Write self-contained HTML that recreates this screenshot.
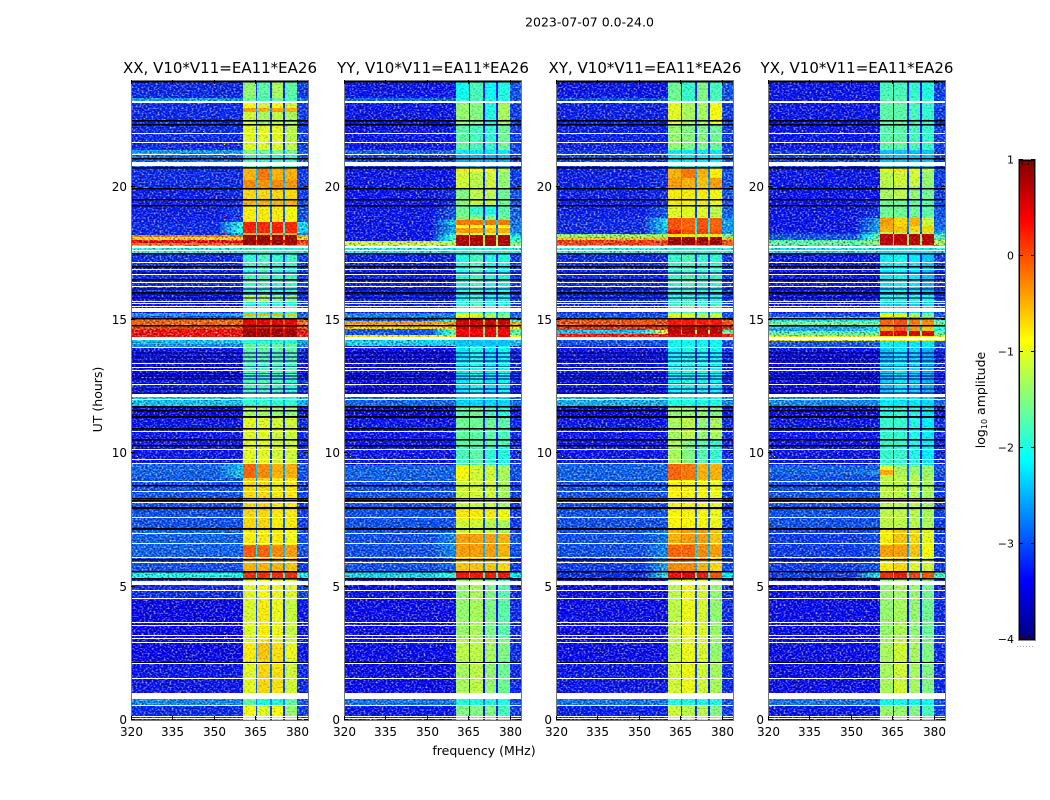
<!DOCTYPE html>
<html>
<head>
<meta charset="utf-8">
<title>2023-07-07 0.0-24.0</title>
<style>
html,body{margin:0;padding:0;background:#fff;}
svg{display:block;font-family:"DejaVu Sans","Liberation Sans",sans-serif;fill:#000;}
</style>
</head>
<body>
<svg id="chart" xmlns="http://www.w3.org/2000/svg" width="1050" height="800" viewBox="0 0 1050 800">
  <defs>
    <filter id="grain" x="0" y="0" width="100%" height="100%" color-interpolation-filters="sRGB">
      <feTurbulence type="fractalNoise" baseFrequency="0.5 0.62" numOctaves="1" seed="7"/>
      <feColorMatrix type="matrix" values="1.5 0 0 0 -0.25  1.5 0 0 0 -0.25  1.5 0 0 0 -0.25  0 0 0 0 1"/>
    </filter>
  </defs>
  <text x="589.5" y="26.5" font-size="12.5" text-anchor="middle">2023-07-07 0.0-24.0</text>
  <text transform="translate(102,399.5) rotate(-90)" font-size="12.5" text-anchor="middle">UT (hours)</text>
  <text x="484" y="755" font-size="12.5" text-anchor="middle">frequency (MHz)</text>
  <text transform="translate(985,400) rotate(-90)" font-size="12.5" text-anchor="middle">log<tspan font-size="8" dy="2">10</tspan><tspan dy="-2"> amplitude</tspan></text>
  <g id="panels"></g>
  <g id="colorbar"></g>
</svg>
<script>
const panelTitles = ["XX, V10*V11=EA11*EA26", "YY, V10*V11=EA11*EA26", "XY, V10*V11=EA11*EA26", "YX, V10*V11=EA11*EA26"];
const xTicks = [320, 335, 350, 365, 380];
const yTicks = [0, 5, 10, 15, 20];
const cbarTicks = [1, 0, -1, -2, -3, -4];

// Sub-band frequency limits in MHz
const subBands = [[360.6, 365.1], [365.7, 370.2], [370.85, 375.05], [375.8, 379.9]];

// Rows: [UT start, UT end, quiet level, near-band level, band 1, band 2, band 3, band 4, upper-edge level] (log10 amplitude)
const xxRows = [
[24,23.33,-3.2,-3.2,-1.4,-1.7,-1.3,-1.7,-3.1],
[23.33,23.14,-2.6,-2.6,-1.6,-1.8,-1.6,-1.8,-2.8],
[23.14,22.95,-3.2,-3.2,-.9,-1.1,-.9,-1.1,-3.1],
[22.95,22.8,-3.2,-3.2,-.4,-.5,-.4,-.5,-3.1],
[22.8,22.31,-3.2,-3.2,-1.1,-1.3,-1.2,-1.3,-3.1],
[22.31,21.38,-3.2,-3.2,-1,-1,-1,-1.2,-3.1],
[21.38,21.23,-2.6,-2.6,-1.5,-1.6,-1.5,-1.6,-2.9],
[21.23,20.7,-2.9,-2.9,-1.8,-1.9,-1.9,-1.9,-3],
[20.7,20.25,-3.2,-3.2,-.5,-.2,-.5,-.5,-3.1],
[20.25,19.88,-3.2,-3.2,-.3,-.35,-.3,-.35,-3.1],
[19.88,19.5,-3.25,-3.2,-.7,-.7,-.7,-.7,-3.1],
[19.5,19.31,-3.25,-3.2,-.5,-.5,-.5,-.5,-3],
[19.31,18.68,-3.25,-3.1,-.8,-.8,-.8,-.9,-3],
[18.68,18.26,-3.2,-2,.25,.2,.25,.2,-2.3],
[18.26,18.19,-3.2,-2.6,-.5,-.5,-.5,-.5,-2.8],
[18.19,18.11,-.2,-.2,.85,.85,.85,.85,-.5],
[18.11,18,-.7,-.7,.85,.85,.85,.85,-.7],
[18,17.89,.4,.4,.85,.85,.85,.85,.2],
[17.89,17.81,-.1,-.1,.85,.85,.85,.85,-.2],
[17.81,17.48,-2,-2,-1.9,-1.9,-2,-2,-2],
[17.48,15.94,-3.2,-3.2,-1.9,-1.8,-1.9,-1.9,-3.1],
[15.94,15.71,-3.3,-3.3,-1.2,-1.2,-1.4,-1.4,-3.1],
[15.71,15.28,-3.3,-3.3,-2,-2,-2,-2,-3.1],
[15.28,15.15,-2.6,-2.5,-.5,-.5,-.5,-.6,-2.8],
[15.15,15.08,-3,-3,-1.5,-1.5,-1.5,-1.5,-3],
[15.08,14.81,-.1,-.1,.5,.5,.5,.5,-.1],
[14.81,14.66,.05,.05,.6,.6,.6,.6,.05],
[14.66,14.25,.35,.4,.85,.85,.85,.85,.3],
[14.25,14.1,-2.4,-2.4,-2,-2,-2,-2,-2.5],
[14.1,13.99,-2.7,-2.7,-1.6,-1.6,-1.6,-1.6,-2.7],
[13.99,13.35,-3.3,-3.3,-1.7,-1.7,-1.7,-1.7,-3.2],
[13.35,12.75,-3.4,-3.4,-1.8,-1.8,-1.8,-1.8,-3.3],
[12.75,12.19,-3.25,-3.2,-1.8,-1.8,-1.8,-1.9,-3.1],
[12.19,11.78,-2.4,-2.4,-1.9,-1.9,-1.9,-1.9,-2.5],
[11.78,11.33,-3.4,-3.4,-1.3,-1.3,-1.4,-1.4,-3.3],
[11.33,9.6,-3.3,-3.3,-1,-1,-1.1,-1.1,-3.2],
[9.6,9.08,-2.9,-2.4,-.1,-.3,-.5,-.5,-3],
[9.08,7.2,-3,-3,-.7,-.7,-.8,-.8,-3.1],
[7.2,6.56,-2.9,-2.9,-.8,-.8,-.8,-.9,-3],
[6.56,6.08,-2.9,-2.9,-.05,-.1,-.3,-.4,-3],
[6.08,5.59,-3,-3,-.5,-.5,-.5,-.6,-3.1],
[5.59,5.29,-2.1,-2.1,.2,.2,.2,.2,-2.1],
[5.29,4.5,-3.2,-3.2,-1,-.9,-.95,-1,-3.1],
[4.5,2.89,-3.4,-3.4,-1.05,-.8,-.95,-1.15,-3.3],
[2.89,2.25,-3.4,-3.4,-.8,-.6,-.75,-.95,-3.3],
[2.25,.79,-3.3,-3.3,-1,-.7,-.75,-1.1,-3.2],
[.79,.53,-2.7,-2.7,-1.7,-2,-2,-1.7,-3],
[.53,0,-3.2,-3.2,-.9,-1,-.9,-1.4,-3.1]
];
const yyRows = [
[24,23.33,-3.3,-3.3,-2.1,-1.8,-2.1,-2,-3],
[23.33,23.14,-2.9,-2.9,-2,-1.8,-2,-2,-3],
[23.14,22.31,-3.3,-3.3,-1.4,-1.5,-2,-1.3,-3.1],
[22.31,21.38,-3.3,-3.3,-1.7,-1.8,-1.9,-1.6,-3.1],
[21.38,21.23,-2.9,-2.9,-2.2,-2.2,-2.2,-2.2,-3],
[21.23,20.7,-3.1,-3.1,-2.5,-2.5,-2.5,-2.5,-3.1],
[20.7,20.55,-3.3,-3.3,-.8,-.9,-.9,-1.2,-3.1],
[20.55,19.95,-3.3,-3.3,-1.1,-1.2,-1.1,-1.4,-3.1],
[19.95,19.31,-3.3,-3.2,-1.5,-1.2,-1.2,-1.6,-3],
[19.31,18.94,-3.3,-3,-1.6,-1.9,-2,-1.7,-2.9],
[18.94,18.75,-3.3,-3,-1.5,-1.5,-1.5,-1.6,-2.9],
[18.75,18.56,-3.3,-2.3,-.2,-.2,-.2,-.2,-2.8],
[18.56,18.45,-3.3,-2.7,-.9,-.9,-.9,-.9,-2.8],
[18.45,18.26,-3.3,-2.5,-.4,-.4,-.6,-.5,-2.7],
[18.26,18.19,-3.3,-2.3,-1,-1,-1,-1,-2.5],
[18.19,17.96,-3.3,-1.9,.75,.75,.75,.75,-2],
[17.96,17.78,-1.1,-1.2,.75,.75,.75,.75,-1.5],
[17.78,17.48,-2.1,-2.1,-2,-2,-2,-2,-2.1],
[17.48,15.28,-3.25,-3.25,-2,-1.8,-2,-2,-3.1],
[15.28,15.11,-2.7,-2.7,-.9,-1,-1.2,-1.5,-2.9],
[15.11,15.08,-3,-3,-1.5,-1.5,-1.5,-1.5,-3],
[15.08,14.96,-3,-1.8,.7,.7,.7,.7,-2],
[14.96,14.81,-.4,-.4,.6,.6,.6,.6,-.5],
[14.81,14.66,-.7,-.7,.6,.6,.6,.6,-.8],
[14.66,14.44,-3,-1.7,.4,.4,.4,.4,-1.7],
[14.44,14.25,-.8,-.8,.6,.5,.5,.5,-.9],
[14.25,14.03,-2.3,-2.3,-2.4,-2.4,-2.4,-2.4,-2.4],
[14.03,12.19,-3.35,-3.35,-2.2,-2,-2.2,-2.1,-3.2],
[12.19,11.78,-2.9,-2.9,-2.3,-2.3,-2.3,-2.3,-2.9],
[11.78,11.33,-3.4,-3.4,-1.7,-1.6,-1.8,-2,-3.3],
[11.33,10.8,-3.3,-3.3,-1.6,-1.6,-1.6,-1.7,-3.2],
[10.8,10.2,-3.3,-3.3,-1.7,-1.7,-1.7,-1.8,-3.2],
[10.2,9.56,-3.3,-3.3,-1.8,-1.7,-1.9,-2,-3.2],
[9.56,9,-2.9,-2.9,-.9,-1.1,-1.1,-1.3,-3],
[9,7.88,-3,-3,-1.1,-1.1,-1.1,-1.3,-3.1],
[7.88,7.5,-3,-3,-.8,-.8,-.8,-.9,-3.1],
[7.5,7.01,-3,-3,-1.1,-1.1,-1.2,-1.3,-3.1],
[7.01,6.11,-3,-2.7,-.4,-.4,-.4,-.5,-3],
[6.11,5.59,-3,-2.9,-.6,-.6,-.6,-.7,-3.1],
[5.59,5.29,-2.3,-2,.3,.3,.3,.3,-2.2],
[5.29,3,-3.35,-3.35,-1.4,-1.3,-1.5,-1.7,-3.2],
[3,2.25,-3.35,-3.35,-1.2,-1.2,-1.3,-1.5,-3.2],
[2.25,.79,-3.35,-3.35,-1.3,-1.2,-1.4,-1.6,-3.2],
[.79,.56,-2.8,-2.8,-2,-2,-2,-2,-3],
[.56,0,-3.3,-3.3,-1.5,-1.5,-1.5,-1.8,-3.1]
];
const xyRows = [
[24,23.33,-3.3,-3.3,-1.6,-1.9,-1.5,-1.8,-3],
[23.33,23.14,-3,-3,-1.6,-1.9,-1.5,-1.8,-3],
[23.14,22.31,-3.25,-3.25,-1,-1.3,-1.3,-.9,-3.1],
[22.31,21.38,-3.25,-3.25,-1.4,-1.5,-1.5,-1.6,-3.1],
[21.38,20.7,-3.1,-3.1,-2.2,-2.2,-2.2,-2.2,-3],
[20.7,20.33,-3.25,-3.2,-.5,-.2,-.5,-.8,-3],
[20.33,19.95,-3.25,-3.2,-.4,-.5,-.6,-.4,-3],
[19.95,19.31,-3.25,-3.2,-.8,-.8,-.8,-.9,-3],
[19.31,18.83,-3.25,-3,-1,-1,-1,-1.2,-2.9],
[18.83,18.38,-3.2,-2.3,0,-.1,0,-.1,-2.6],
[18.38,18.23,-3.2,-2.5,.3,0,.1,0,-2.6],
[18.23,18.11,-1.4,-1.4,-.8,-.8,-.8,-.8,-1.6],
[18.11,18,-.6,-.6,.85,.85,.85,.85,-.6],
[18,17.81,.1,.1,.85,.85,.85,.85,0],
[17.81,17.48,-2,-2,-2,-2,-2,-2,-2],
[17.48,15.28,-3.2,-3.2,-1.9,-1.8,-1.9,-1.9,-3.1],
[15.28,15.11,-3,-3,-.9,-1,-1.2,-1.1,-3],
[15.11,15.08,-3,-3,-1.5,-1.5,-1.5,-1.5,-3],
[15.08,14.78,0,0,.3,.3,.3,.3,0],
[14.78,14.63,.2,.2,.7,.7,.7,.7,.2],
[14.63,14.48,-2.4,-1,.7,.7,.7,.7,-1.7],
[14.48,14.25,.3,.3,.5,.5,.5,.5,.3],
[14.25,14.03,-3,-3,-2.1,-2.1,-2.1,-2.1,-3],
[14.03,12.19,-3.3,-3.3,-2.1,-2,-2,-2.1,-3.2],
[12.19,11.78,-2.5,-2.5,-2,-2,-2,-2,-2.7],
[11.78,11.33,-3.4,-3.4,-1.4,-1.4,-1.4,-1.5,-3.3],
[11.33,10.5,-3.3,-3.3,-1.3,-1.2,-1.4,-1.3,-3.2],
[10.5,9.6,-3.3,-3.3,-1.3,-1.5,-1.7,-1.9,-3.2],
[9.6,9,-2.9,-2.9,-.1,-.2,-.5,-.5,-3],
[9,7.2,-3,-3,-.85,-.85,-.85,-.95,-3.1],
[7.2,6.56,-3,-2.8,-.5,-.4,-.4,-.6,-3],
[6.56,6.08,-3,-2.7,-.1,-.1,-.3,-.4,-3],
[6.08,5.59,-3.1,-2.6,-.3,-.3,-.5,-.7,-3],
[5.59,5.29,-3.2,-2.2,.4,.5,.3,0,-2.2],
[5.29,2.25,-3.35,-3.35,-1.2,-.95,-1.05,-1.4,-3.2],
[2.25,.79,-3.3,-3.3,-1.1,-.95,-1.1,-1.3,-3.2],
[.79,.56,-2.8,-2.8,-2,-2,-2,-2,-3],
[.56,0,-3.25,-3.25,-1.1,-1.2,-1.2,-1.5,-3.1]
];
const yxRows = [
[24,23.33,-3.3,-3.3,-1.8,-1.8,-1.9,-2,-3.1],
[23.33,21.38,-3.3,-3.3,-1.7,-1.7,-1.8,-1.9,-3.1],
[21.38,20.7,-3.1,-3.1,-2.4,-2.4,-2.4,-2.4,-3.1],
[20.7,20.55,-3.3,-3.3,-.8,-.8,-1,-1.2,-3.1],
[20.55,20.03,-3.3,-3.3,-1.2,-1.1,-1.1,-1.4,-3.1],
[20.03,19.5,-3.3,-3.3,-1.3,-1.2,-1.4,-1.6,-3.1],
[19.5,18.83,-3.3,-3.2,-1.6,-1.6,-1.6,-1.7,-3],
[18.83,18.53,-3.3,-2.6,-.4,-.7,-.5,-1.1,-2.9],
[18.53,18.3,-3.3,-2.6,-.5,-.6,-.7,-.7,-2.8],
[18.3,18.23,-3.2,-2.4,-1.2,-1.2,-1.2,-1.2,-2.5],
[18.23,18,-3,-1.7,.7,.7,.7,.7,-1.8],
[18,17.81,-1.7,-1.5,.7,.7,.7,.7,-1.3],
[17.81,17.48,-2.2,-2.2,-2.2,-2.2,-2.2,-2.2,-2.2],
[17.48,15.94,-3.3,-3.3,-2.2,-2.1,-2.2,-2.4,-3.1],
[15.94,15.71,-3.3,-3.3,-1.9,-1.9,-1.9,-2,-3.1],
[15.71,15.28,-3.3,-3.3,-2.3,-2.3,-2.3,-2.3,-3.1],
[15.28,15.11,-3,-3,-.9,-1,-1.2,-1.5,-3],
[15.11,14.96,-2.2,-2.2,-.1,0,-.2,-.3,-2],
[14.96,14.81,-1.6,-1.6,-.1,0,-.2,-.3,-1.6],
[14.81,14.59,-2.5,-2.2,-.4,0,-.4,-.6,-2],
[14.59,14.4,-1.7,-1.6,.5,.5,.5,.5,-1.6],
[14.4,14.21,-.9,-.9,-.9,-.9,-.9,-.9,-.9],
[14.21,13.99,-3,-3,-2.2,-2.2,-2.2,-2.2,-3],
[13.99,12.19,-3.35,-3.35,-2.4,-2.2,-2.3,-2.5,-3.2],
[12.19,11.78,-2.7,-2.7,-2.2,-2.2,-2.2,-2.3,-2.9],
[11.78,11.33,-3.4,-3.4,-2,-1.9,-2,-2.2,-3.3],
[11.33,9.56,-3.3,-3.3,-1.9,-1.9,-2,-2.2,-3.2],
[9.56,9.38,-2.9,-2.9,-1,-1.3,-1.4,-1.4,-3],
[9.38,9.19,-2.9,-2.7,-.5,-1.3,-1.4,-1.4,-3],
[9.19,7.13,-3,-3,-1.2,-1.2,-1.2,-1.3,-3.1],
[7.13,6.56,-3.1,-3,-.8,-.6,-.7,-1,-3.1],
[6.56,6.08,-3.1,-3,-.4,-.4,-.6,-.9,-3.1],
[6.08,5.59,-3.1,-3,-.8,-.7,-1,-1.1,-3.1],
[5.59,5.29,-3.1,-2.2,.2,.3,.1,0,-1.9],
[5.29,3,-3.35,-3.35,-1.4,-1.3,-1.4,-1.6,-3.2],
[3,.79,-3.35,-3.35,-1.3,-1.1,-1.3,-1.5,-3.2],
[.79,.56,-2.8,-2.8,-2.1,-2.1,-2.1,-2.1,-3],
[.56,0,-3.3,-3.3,-1.4,-1.4,-1.5,-1.8,-3.1]
];
const panelRows = [xxRows, yyRows, xyRows, yxRows];

// Flagged integrations, shared by all correlations: [UT high, UT low]
const whiteGaps = [
[23.23,23.14],[22.03,21.98],[21.69,21.64],[21.24,21.19],[20.94,20.76],[17.79,17.76],[17.72,17.68],[17.63,17.57],
[17.16,17.1],[16.93,16.88],[16.74,16.69],[16.44,16.39],[16.29,16.24],[15.73,15.68],[15.64,15.58],[15.54,15.49],
[15.45,15.28],[14.36,14.25],[13.99,13.93],[13.37,13.31],[13.24,13.18],[13.11,13.05],[12.6,12.54],[12.21,12.09],
[12.04,12],[10.84,10.78],[10.18,10.13],[9.79,9.73],[9.62,9.56],[8.98,8.93],[8.57,8.51],[8.16,8.1],[7.63,7.58],
[7.03,6.98],[6.62,6.56],[6.13,6.08],[5.91,5.85],[5.23,5.06],[4.89,4.84],[4.59,4.54],[3.66,3.6],[3.56,3.53],
[3.17,3.11],[3.08,3.02],[2.93,2.89],[2.12,2.06],[1.56,1.5],[1.03,.79],[.58,.53],[.15,.11],[.08,.04]
];
const blackRows = [
[23.96,23.91],[22.5,22.44],[22.35,22.29],[21.08,21.04],[20.74,20.68],[19.95,19.91],[19.54,19.5],[19.33,19.28],
[17.53,17.48],[17.03,16.99],[16.54,16.48],[16.05,15.99],[15.09,15.04],[14.81,14.78],[11.76,11.7],[11.63,11.59],
[11.4,11.33],[10.95,10.89],[10.52,10.46],[10.33,10.28],[8.81,8.78],[8.34,8.29],[8.25,8.21],[7.99,7.91],[7.2,7.13],
[6.02,5.96],[5.59,5.55],[5.33,5.27],[2.18,2.12]
];
// Low-level integrations, darker than their surroundings
const dimRows = [
[16.8,16.72],[16.2,16.13],[16.0,15.93],[15.86,15.8],[13.8,13.72],[13.65,13.57],[13.5,13.42],[13.28,13.25],[13.03,12.98],
[12.95,12.87],[12.82,12.75],[12.65,12.57],[12.45,12.37],[12.3,12.22]
];
// Isolated bright samples: [UT, MHz, log10 amplitude]
const spikes = [
[22.0,353.6,-1],[21.6,353.6,-1],[21.2,353.6,-.5],[18.9,353.6,.2],[18.3,353.6,.3],[22.1,346,-1.6],[19.5,340,-1.7],
[13.6,353.6,-1],[10,345,-.7],[9.9,322,-1.2],[4.9,353.6,-1.2],[3.8,353.6,-1.2],[3.1,353.6,-1.4]
];

const FMIN = 320, FMAX = 384, TMIN = 0, TMAX = 24, VMIN = -4, VMAX = 1;
const PW = 177, PH = 640, PTOP = 80, PSTEP = 212.3, PLEFT = 131.2;
const SVGNS = "http://www.w3.org/2000/svg";

function panelLeft(i) { return Math.round(PLEFT + i * PSTEP); }
function xScale(i, f) { return panelLeft(i) + (f - FMIN) / (FMAX - FMIN) * PW; }
function yScale(h) { return PTOP + (TMAX - h) / (TMAX - TMIN) * PH; }
function cScale(v) { return 160 + (VMAX - v) / (VMAX - VMIN) * 480; }

function jet(v) {
  const t = Math.max(0, Math.min(1, (v - VMIN) / (VMAX - VMIN)));
  const ramp = function (x) {
    return Math.max(0, Math.min(1, x));
  };
  const r = ramp(Math.min(4 * t - 1.5, -4 * t + 4.5));
  const g = ramp(Math.min(4 * t - 0.5, -4 * t + 3.5));
  const b = ramp(Math.min(4 * t + 0.5, -4 * t + 2.5));
  return "rgb(" + Math.round(r * 255) + "," + Math.round(g * 255) + "," + Math.round(b * 255) + ")";
}

function make(tag, attrs, parent) {
  const el = document.createElementNS(SVGNS, tag);
  for (const k in attrs) el.setAttribute(k, attrs[k]);
  parent.appendChild(el);
  return el;
}

function cell(parent, x0, x1, y0, y1, fill) {
  const top = Math.round(y0), bottom = Math.max(top + 1, Math.round(y1));
  const left = Math.round(x0), right = Math.max(left + 1, Math.round(x1));
  return make("rect", { x: left, y: top, width: right - left, height: bottom - top, fill: fill, "shape-rendering": "crispEdges" }, parent);
}

// A flagged row keeps its true thickness, at least one pixel
function gapRow(parent, x0, x1, y0, y1, fill) {
  const top = Math.round(y0), height = Math.max(1, Math.floor(y1 - y0 + 0.2));
  return make("rect", { x: x0, y: top, width: x1 - x0, height: height, fill: fill, "shape-rendering": "crispEdges" }, parent);
}

// A no-signal row is drawn at its measured thickness with a soft lower edge
function darkRow(parent, x0, x1, y0, y1) {
  const top = Math.round(y0), height = Math.max(1.5, y1 - y0);
  return make("rect", { x: x0, y: top, width: x1 - x0, height: height, fill: "#000" }, parent);
}

const panelsRoot = document.getElementById("panels");

panelRows.forEach(function (rows, i) {
  const L = panelLeft(i), R = L + PW, B = PTOP + PH;
  const g = make("g", {}, panelsRoot);
  
  

  const title = make("text", { x: L + PW / 2 + 0.5, y: 73, "font-size": 15, "text-anchor": "middle" }, g);
  title.textContent = panelTitles[i];
  
  

  const heat = make("g", {}, g);
  
  
  heat.style.isolation = "isolate";

  rows.forEach(function (row) {
    const y0 = yScale(row[0]), y1 = yScale(row[1]);
    const quiet = row[2], halo = row[3], edge = row[8];
    const spans = [
      [FMIN, 352, quiet],
      [352, 354, quiet + (halo - quiet) * 0.25],
      [354, 356, quiet + (halo - quiet) * 0.5],
      [356, 358.3, quiet + (halo - quiet) * 0.75],
      [358.3, subBands[0][0], halo],
      [subBands[3][1], FMAX, edge]
    ];
    subBands.forEach(function (band, b) {
      spans.push([band[0], band[1], row[4 + b]]);
      if (b < subBands.length - 1) {
        const gapLevel = Math.max(quiet, (row[4 + b] + row[5 + b]) / 2 - 2.1);
        spans.push([band[1], subBands[b + 1][0], gapLevel]);
      }
    });
    spans.forEach(function (s) {
      const c = cell(heat, xScale(i, s[0]), xScale(i, s[1]), y0, y1, jet(s[2]));
      
      
    });
  });

  const bandX0 = Math.round(xScale(i, subBands[0][0]));
  const bandX1 = Math.round(xScale(i, subBands[3][1]));
  const grainQuiet = make("rect", { x: L, y: PTOP, width: bandX0 - L, height: PH, filter: "url(#grain)", opacity: 0.75 }, heat);
  grainQuiet.style.mixBlendMode = "hard-light";
  
  
  const grainBand = make("rect", { x: bandX0, y: PTOP, width: bandX1 - bandX0, height: PH, filter: "url(#grain)", opacity: 0.3 }, heat);
  grainBand.style.mixBlendMode = "hard-light";
  
  
  const grainUpper = make("rect", { x: bandX1, y: PTOP, width: R - bandX1, height: PH, filter: "url(#grain)", opacity: 0.75 }, heat);
  grainUpper.style.mixBlendMode = "hard-light";
  
  

  spikes.forEach(function (s) {
    const c = cell(heat, xScale(i, s[1]), xScale(i, s[1]) + 1, yScale(s[0]), yScale(s[0]) + 1, jet(s[2]));
    
    
  });

  dimRows.forEach(function (d) {
    const c = cell(heat, L, R, yScale(d[0]), yScale(d[1]), "rgba(0,0,110,0.55)");
    
    
  });
  blackRows.forEach(function (d) {
    const c = darkRow(heat, L, R, yScale(d[0]), yScale(d[1]));
    
    
  });
  whiteGaps.forEach(function (d) {
    const c = gapRow(heat, L, R, yScale(d[0]), yScale(d[1]), "#fff");
    
    
  });

  const frame = make("rect", { x: L + 0.5, y: PTOP + 0.5, width: PW, height: PH, fill: "none", stroke: "#777", "stroke-width": 1 }, g);
  
  

  xTicks.forEach(function (t) {
    const x = Math.round(xScale(i, t)) + 0.5;
    const a = make("line", { x1: x, x2: x, y1: B, y2: B - 4, stroke: "#000" }, g);
    
    
    const a2 = make("line", { x1: x, x2: x, y1: PTOP, y2: PTOP + 4, stroke: "#000" }, g);
    
    
    const lbl = make("text", { x: x, y: 736, "font-size": 12, "text-anchor": "middle" }, g);
    lbl.textContent = t;
    
    
  });
  yTicks.forEach(function (t) {
    const y = Math.round(yScale(t)) - 0.5;
    const a = make("line", { x1: L, x2: L + 4, y1: y, y2: y, stroke: "#000" }, g);
    
    
    const a2 = make("line", { x1: R, x2: R - 4, y1: y, y2: y, stroke: "#000" }, g);
    
    
    const lbl = make("text", { x: L - 4, y: y + 4.5, "font-size": 12, "text-anchor": "end" }, g);
    lbl.textContent = t;
    
    
  });
});

const cb = document.getElementById("colorbar");
const CB_L = 1019, CB_R = 1035, CB_STEPS = 240;
for (let s = 0; s < CB_STEPS; s++) {
  const v0 = VMAX - (VMAX - VMIN) * s / CB_STEPS;
  const v1 = VMAX - (VMAX - VMIN) * (s + 1) / CB_STEPS;
  const c = cell(cb, CB_L, CB_R, cScale(v0), cScale(v1), jet((v0 + v1) / 2));
  
  
}
const cbFrame = make("rect", { x: CB_L - 0.5, y: 159.5, width: CB_R - CB_L + 1, height: 481, fill: "none", stroke: "#888" }, cb);


const cbInner = make("rect", { x: CB_L + 0.5, y: 160.5, width: CB_R - CB_L - 1, height: 479, fill: "none", stroke: "#000" }, cb);


cbarTicks.forEach(function (t) {
  const y = Math.round(cScale(t)) - 0.5;
  const a = make("line", { x1: CB_L, x2: CB_L + 4, y1: y, y2: y, stroke: "#000" }, cb);
  
  
  const b = make("line", { x1: CB_R - 4, x2: CB_R, y1: y, y2: y, stroke: "#000" }, cb);
  
  
  const lbl = make("text", { x: 1014, y: Math.max(Math.min(y + 4, 643), 163), "font-size": 11, "text-anchor": "end" }, cb);
  lbl.textContent = t < 0 ? "\u2212" + Math.abs(t) : t;
  
  
});
[162, 637].forEach(function (y) {
  [1022.5, 1025.5, 1028.5, 1031.5].forEach(function (x) {
    const d = make("line", { x1: x, x2: x, y1: y - 2, y2: y + 3, stroke: "#300" }, cb);
    
    
  });
});
const dots = make("line", { x1: 1017, x2: 1035, y1: 646.5, y2: 646.5, stroke: "#aaa", "stroke-dasharray": "1 2" }, cb);


</script>
</body>
</html>
